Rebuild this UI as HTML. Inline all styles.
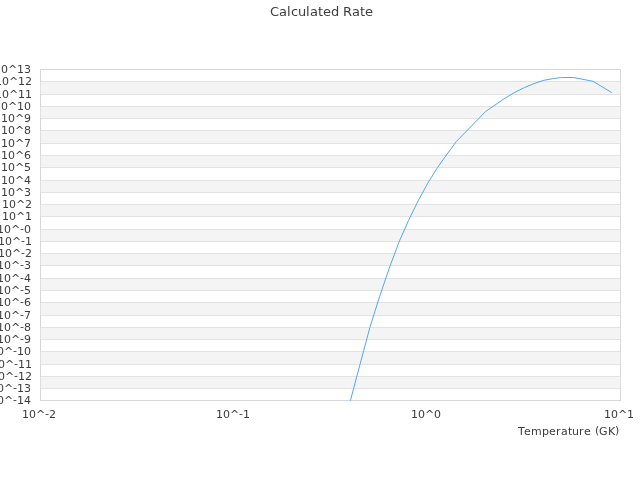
<!DOCTYPE html>
<html><head><meta charset="utf-8"><title>Calculated Rate</title>
<style>
html,body{margin:0;padding:0;background:#fff;width:640px;height:480px;overflow:hidden}
svg{display:block}
text{font-family:"DejaVu Sans","Liberation Sans",sans-serif;fill:#3c3c3c}
</style></head><body>
<svg width="640" height="480" viewBox="0 0 640 480">
<rect x="0" y="0" width="640" height="480" fill="#ffffff"/>
<g shape-rendering="crispEdges">
<rect x="40" y="81" width="581" height="13" fill="#f4f4f4"/>
<rect x="40" y="106" width="581" height="12" fill="#f4f4f4"/>
<rect x="40" y="130" width="581" height="13" fill="#f4f4f4"/>
<rect x="40" y="155" width="581" height="12" fill="#f4f4f4"/>
<rect x="40" y="180" width="581" height="12" fill="#f4f4f4"/>
<rect x="40" y="204" width="581" height="12" fill="#f4f4f4"/>
<rect x="40" y="229" width="581" height="12" fill="#f4f4f4"/>
<rect x="40" y="253" width="581" height="12" fill="#f4f4f4"/>
<rect x="40" y="278" width="581" height="12" fill="#f4f4f4"/>
<rect x="40" y="302" width="581" height="13" fill="#f4f4f4"/>
<rect x="40" y="327" width="581" height="12" fill="#f4f4f4"/>
<rect x="40" y="351" width="581" height="13" fill="#f4f4f4"/>
<rect x="40" y="376" width="581" height="12" fill="#f4f4f4"/>
<rect x="40" y="69" width="581" height="1" fill="#e2e2e2"/>
<rect x="40" y="81" width="581" height="1" fill="#e2e2e2"/>
<rect x="40" y="94" width="581" height="1" fill="#e2e2e2"/>
<rect x="40" y="106" width="581" height="1" fill="#e2e2e2"/>
<rect x="40" y="118" width="581" height="1" fill="#e2e2e2"/>
<rect x="40" y="130" width="581" height="1" fill="#e2e2e2"/>
<rect x="40" y="143" width="581" height="1" fill="#e2e2e2"/>
<rect x="40" y="155" width="581" height="1" fill="#e2e2e2"/>
<rect x="40" y="167" width="581" height="1" fill="#e2e2e2"/>
<rect x="40" y="180" width="581" height="1" fill="#e2e2e2"/>
<rect x="40" y="192" width="581" height="1" fill="#e2e2e2"/>
<rect x="40" y="204" width="581" height="1" fill="#e2e2e2"/>
<rect x="40" y="216" width="581" height="1" fill="#e2e2e2"/>
<rect x="40" y="229" width="581" height="1" fill="#e2e2e2"/>
<rect x="40" y="241" width="581" height="1" fill="#e2e2e2"/>
<rect x="40" y="253" width="581" height="1" fill="#e2e2e2"/>
<rect x="40" y="265" width="581" height="1" fill="#e2e2e2"/>
<rect x="40" y="278" width="581" height="1" fill="#e2e2e2"/>
<rect x="40" y="290" width="581" height="1" fill="#e2e2e2"/>
<rect x="40" y="302" width="581" height="1" fill="#e2e2e2"/>
<rect x="40" y="315" width="581" height="1" fill="#e2e2e2"/>
<rect x="40" y="327" width="581" height="1" fill="#e2e2e2"/>
<rect x="40" y="339" width="581" height="1" fill="#e2e2e2"/>
<rect x="40" y="351" width="581" height="1" fill="#e2e2e2"/>
<rect x="40" y="364" width="581" height="1" fill="#e2e2e2"/>
<rect x="40" y="376" width="581" height="1" fill="#e2e2e2"/>
<rect x="40" y="388" width="581" height="1" fill="#e2e2e2"/>
<rect x="40" y="400" width="581" height="1" fill="#e2e2e2"/>
<rect x="40" y="69" width="1" height="332" fill="#d7d7d7"/>
<rect x="620" y="69" width="1" height="332" fill="#d7d7d7"/>
<rect x="40" y="69" width="581" height="1" fill="#d7d7d7"/>
<rect x="40" y="400" width="581" height="1" fill="#d7d7d7"/>
<rect x="40" y="82" width="1" height="12" fill="#dfdfdf"/>
<rect x="620" y="82" width="1" height="12" fill="#dfdfdf"/>
<rect x="40" y="107" width="1" height="11" fill="#dfdfdf"/>
<rect x="620" y="107" width="1" height="11" fill="#dfdfdf"/>
<rect x="40" y="131" width="1" height="12" fill="#dfdfdf"/>
<rect x="620" y="131" width="1" height="12" fill="#dfdfdf"/>
<rect x="40" y="156" width="1" height="11" fill="#dfdfdf"/>
<rect x="620" y="156" width="1" height="11" fill="#dfdfdf"/>
<rect x="40" y="181" width="1" height="11" fill="#dfdfdf"/>
<rect x="620" y="181" width="1" height="11" fill="#dfdfdf"/>
<rect x="40" y="205" width="1" height="11" fill="#dfdfdf"/>
<rect x="620" y="205" width="1" height="11" fill="#dfdfdf"/>
<rect x="40" y="230" width="1" height="11" fill="#dfdfdf"/>
<rect x="620" y="230" width="1" height="11" fill="#dfdfdf"/>
<rect x="40" y="254" width="1" height="11" fill="#dfdfdf"/>
<rect x="620" y="254" width="1" height="11" fill="#dfdfdf"/>
<rect x="40" y="279" width="1" height="11" fill="#dfdfdf"/>
<rect x="620" y="279" width="1" height="11" fill="#dfdfdf"/>
<rect x="40" y="303" width="1" height="12" fill="#dfdfdf"/>
<rect x="620" y="303" width="1" height="12" fill="#dfdfdf"/>
<rect x="40" y="328" width="1" height="11" fill="#dfdfdf"/>
<rect x="620" y="328" width="1" height="11" fill="#dfdfdf"/>
<rect x="40" y="352" width="1" height="12" fill="#dfdfdf"/>
<rect x="620" y="352" width="1" height="12" fill="#dfdfdf"/>
<rect x="40" y="377" width="1" height="11" fill="#dfdfdf"/>
<rect x="620" y="377" width="1" height="11" fill="#dfdfdf"/>
</g>
<g font-size="11">
<text x="-6 1 8 17 24" y="73">10^13</text>
<text x="-5 2 9 18 25" y="85">10^12</text>
<text x="-5 2 9 18 25" y="98">10^11</text>
<text x="-6 1 8 17 24" y="110">10^10</text>
<text x="1 8 15 24" y="122">10^9</text>
<text x="1 8 15 24" y="134">10^8</text>
<text x="1 8 15 24" y="147">10^7</text>
<text x="1 8 15 24" y="159">10^6</text>
<text x="1 8 15 24" y="171">10^5</text>
<text x="1 8 15 24" y="184">10^4</text>
<text x="1 8 15 24" y="196">10^3</text>
<text x="2 9 16 25" y="208">10^2</text>
<text x="2 9 16 25" y="220">10^1</text>
<text x="-3 4 11 20 24" y="233" dy="0 0 0 -1 1">10^-0</text>
<text x="-2 5 12 21 25" y="245" dy="0 0 0 -1 1">10^-1</text>
<text x="-2 5 12 21 25" y="257" dy="0 0 0 -1 1">10^-2</text>
<text x="-3 4 11 20 24" y="269" dy="0 0 0 -1 1">10^-3</text>
<text x="-3 4 11 20 24" y="282" dy="0 0 0 -1 1">10^-4</text>
<text x="-3 4 11 20 24" y="294" dy="0 0 0 -1 1">10^-5</text>
<text x="-3 4 11 20 24" y="306" dy="0 0 0 -1 1">10^-6</text>
<text x="-3 4 11 20 24" y="319" dy="0 0 0 -1 1">10^-7</text>
<text x="-3 4 11 20 24" y="331" dy="0 0 0 -1 1">10^-8</text>
<text x="-3 4 11 20 24" y="343" dy="0 0 0 -1 1">10^-9</text>
<text x="-10 -3 4 13 17 24" y="355" dy="0 0 0 -1 1 0">10^-10</text>
<text x="-9 -2 5 14 18 25" y="368" dy="0 0 0 -1 1 0">10^-11</text>
<text x="-9 -2 5 14 18 25" y="380" dy="0 0 0 -1 1 0">10^-12</text>
<text x="-10 -3 4 13 17 24" y="392" dy="0 0 0 -1 1 0">10^-13</text>
<text x="-10 -3 4 13 17 24" y="404" dy="0 0 0 -1 1 0">10^-14</text>
</g>
<g font-size="11">
<text x="22 29 36 45 49" y="418" dy="0 0 0 -1 1">10^-2</text>
<text x="216 223 230 239 243" y="418" dy="0 0 0 -1 1">10^-1</text>
<text x="411 418 425 434" y="418">10^0</text>
<text x="604 611 618 627" y="418">10^1</text>
</g>
<text x="518 524 531 542 549 556 561 568 572 579 584 591 595 599 608 615" y="435" dy="0 0 0 0 0 0 0 0 0 0 0 0 -1 1 0 -1" font-size="11">Temperature (GK)</text>
<text x="270 279 287 291 298 306 310 318 323 331 339 343 352 360 365" y="16" font-size="13">Calculated Rate</text>
<path d="M350.50,400.30 L360.17,363.80 L369.83,327.60 L379.50,296.83 L389.17,268.42 L398.83,242.40 L408.50,220.50 L418.17,200.81 L427.83,183.06 L437.50,167.44 L447.17,154.00 L456.40,141.45 L485.60,111.50 L505.20,98.00 L514.83,92.35 L524.50,87.55 L534.17,83.50 L543.83,80.30 L553.50,78.56 L561.50,77.50 L573.50,77.50 L593.00,81.30 L611.50,92.45" fill="none" stroke="#55a5f1" stroke-width="1" stroke-linejoin="round" stroke-linecap="round"/>
</svg>
</body></html>
